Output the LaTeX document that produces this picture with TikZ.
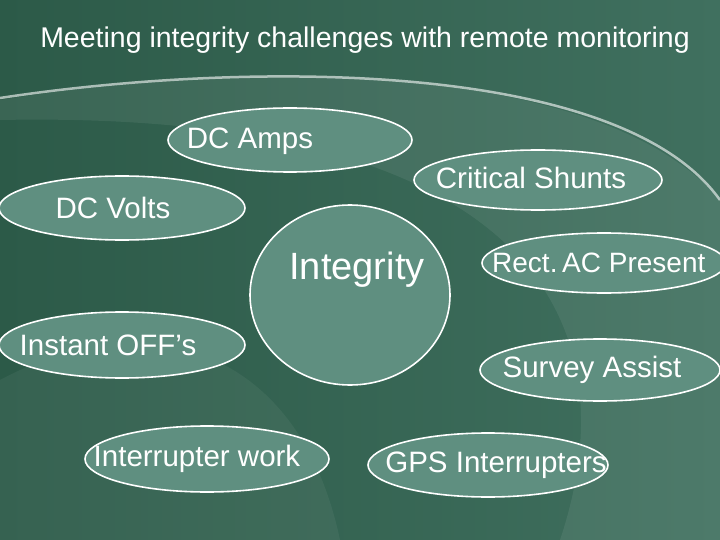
\documentclass[tikz,border=0pt]{standalone}
\usepackage{fontspec}
\setmainfont{Liberation Sans}
\definecolor{bgA}{HTML}{2C5A48}
\definecolor{bgB}{HTML}{40705F}
\definecolor{ellF}{HTML}{5F8F80}
\begin{document}
\begin{tikzpicture}[x=1pt,y=-1pt,
  bub/.style={draw=white,line width=1.6pt,fill=ellF},
  lab/.style={text=white,font=\fontsize{29.5}{32}\selectfont}]
\useasboundingbox (0,0) rectangle (720,540);
\shade[left color=bgA,right color=bgB] (0,0) rectangle (720,540);
\fill[white,opacity=0.07] (0,100) .. controls (250,60) and (600,60) .. (720,200) -- (720,540) -- (560,540) .. controls (640,300) and (500,110) .. (0,120) -- cycle;
\draw[white,opacity=0.6,line width=2.5pt] (0,98) .. controls (250,60) and (620,60) .. (720,200);
\fill[white,opacity=0.05] (0,380) .. controls (150,300) and (300,350) .. (340,540) -- (0,540) -- cycle;
\node[text=white,font=\fontsize{28.5}{32}\selectfont] (title) at (365,40) {Meeting integrity challenges with remote monitoring};
\draw[bub] (290,140) ellipse [x radius=122,y radius=32];
\draw[bub] (538,180) ellipse [x radius=124,y radius=30];
\draw[bub] (122,208) ellipse [x radius=123,y radius=32];
\draw[bub] (350,295) ellipse [x radius=100,y radius=90];
\draw[bub] (604,263) ellipse [x radius=122,y radius=30];
\draw[bub] (122,345) ellipse [x radius=123,y radius=33];
\draw[bub] (600,370) ellipse [x radius=120,y radius=31];
\draw[bub] (207,459) ellipse [x radius=122,y radius=33];
\draw[bub] (488,465) ellipse [x radius=120,y radius=32];
\node[lab] (amps) at (250,141) {DC Amps};
\node[lab] (shunts) at (531,178) {Critical Shunts};
\node[lab] (volts) at (113,208) {DC Volts};
\node[lab,font=\fontsize{38}{42}\selectfont] (integ) at (357,270) {Integrity};
\node[lab,anchor=west,inner sep=0pt,font=\fontsize{28}{30}\selectfont] (rect) at (492,263) {Rect.\,AC Present};
\node[lab] (off) at (108,345) {Instant OFF’s};
\node[lab] (survey) at (592,370) {Survey Assist};
\node[lab] (intw) at (197,459) {Interrupter work};
\node[lab] (gps) at (496,465) {GPS Interrupters};
\end{tikzpicture}
\end{document}
